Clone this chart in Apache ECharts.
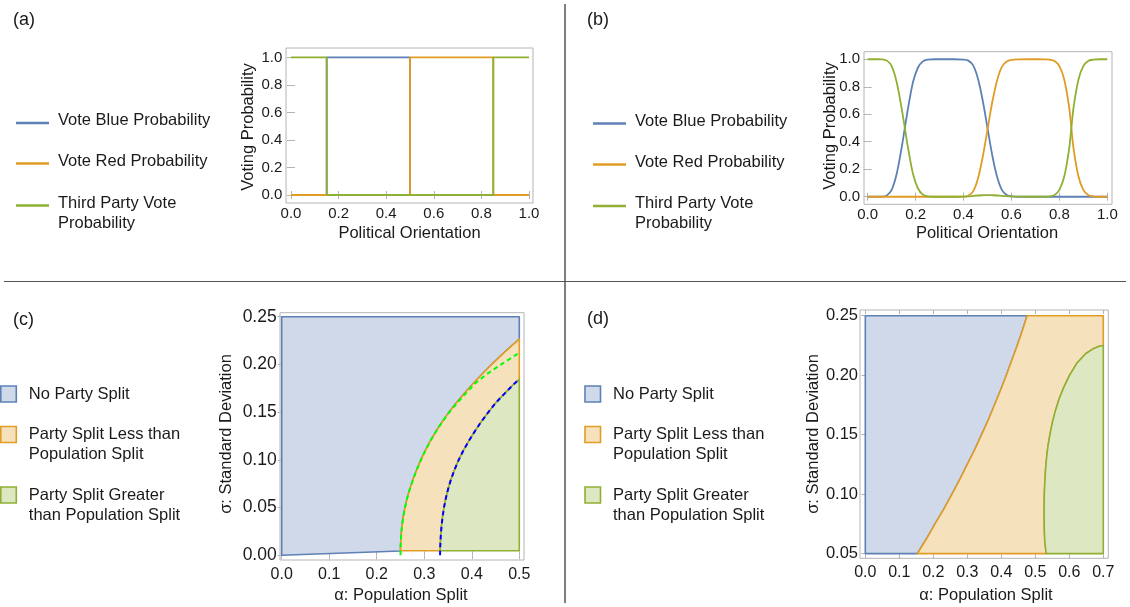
<!DOCTYPE html>
<html>
<head>
<meta charset="utf-8">
<script src="https://cdn.jsdelivr.net/npm/echarts@6/dist/echarts.min.js"></script>
<style>
  html, body { margin: 0; padding: 0; background: #ffffff; }
  #chart { width: 1130px; height: 607px; }
</style>
</head>
<body>
<div id="chart"></div>
<script>
// ---------- (a) sharp voting thresholds ----------
const stepOrientation = [0, 0.15, 0.15, 0.5, 0.5, 0.85, 0.85, 1];
const stepBlue  = [0, 0, 1, 1, 0, 0, 0, 0];
const stepRed   = [0, 0, 0, 0, 1, 1, 0, 0];
const stepThird = [1, 1, 0, 0, 0, 0, 1, 1];

// ---------- (b) smooth voting probabilities ----------
const orientation = [0, 0.02, 0.04, 0.06, 0.08, 0.10, 0.12, 0.14, 0.155, 0.17,
  0.19, 0.21, 0.23, 0.25, 0.28, 0.32, 0.36, 0.40, 0.42, 0.44,
  0.46, 0.48, 0.50, 0.52, 0.54, 0.56, 0.58, 0.60, 0.63, 0.67,
  0.71, 0.74, 0.76, 0.78, 0.80, 0.82, 0.84, 0.85, 0.86, 0.88,
  0.90, 0.92, 0.94, 0.97, 1.0];
const blueProb = [0, 0, 0, 0.001, 0.01, 0.05, 0.16, 0.34, 0.5, 0.66,
  0.84, 0.94, 0.985, 0.997, 1, 1, 1, 0.998, 0.99, 0.955,
  0.86, 0.70, 0.50, 0.30, 0.145, 0.05, 0.013, 0.003, 0, 0,
  0, 0, 0, 0, 0, 0, 0, 0, 0, 0,
  0, 0, 0, 0, 0];
const redProb = [0, 0, 0, 0, 0, 0, 0, 0, 0, 0,
  0, 0, 0, 0, 0, 0, 0, 0.001, 0.007, 0.039,
  0.131, 0.289, 0.488, 0.689, 0.846, 0.944, 0.983, 0.995, 0.999, 1,
  1, 0.999, 0.997, 0.987, 0.95, 0.855, 0.66, 0.5, 0.34, 0.145,
  0.05, 0.013, 0.003, 0, 0];
const thirdProb = [1, 1, 1, 0.999, 0.99, 0.95, 0.84, 0.66, 0.5, 0.34,
  0.16, 0.06, 0.015, 0.003, 0, 0, 0, 0.001, 0.003, 0.006,
  0.009, 0.011, 0.012, 0.011, 0.009, 0.006, 0.004, 0.002, 0.001, 0,
  0, 0.001, 0.003, 0.013, 0.05, 0.145, 0.34, 0.5, 0.66, 0.855,
  0.95, 0.987, 0.997, 1, 1];

// ---------- (c) split regions, alpha in [0, 0.5] ----------
const cEdgeSigma = [0.0048, 0.010, 0.020, 0.030, 0.040, 0.050, 0.060, 0.070, 0.080, 0.090,
  0.100, 0.110, 0.120, 0.130, 0.140, 0.150, 0.160, 0.170, 0.180, 0.190,
  0.200, 0.210, 0.220, 0.2266];
const cEdgeAlpha = [0.2500, 0.2503, 0.2512, 0.2530, 0.2557, 0.2595, 0.2642, 0.2700, 0.2768, 0.2845,
  0.2930, 0.3025, 0.3130, 0.325, 0.338, 0.352, 0.368, 0.385, 0.403, 0.422,
  0.442, 0.463, 0.485, 0.500];
const cGreenDashSigma = [0, 0.005, 0.010, 0.020, 0.030, 0.040, 0.050, 0.060, 0.070, 0.080,
  0.090, 0.100, 0.110, 0.120, 0.130, 0.140, 0.150, 0.160, 0.170, 0.180,
  0.190, 0.200, 0.210, 0.2123];
const cGreenDashAlpha = [0.2500, 0.2501, 0.2503, 0.2512, 0.2530, 0.2557, 0.2595, 0.2642, 0.2700, 0.2768,
  0.2845, 0.2930, 0.3025, 0.3130, 0.325, 0.338, 0.353, 0.370, 0.388, 0.407,
  0.432, 0.462, 0.493, 0.500];
const cBlueDashSigma = [0, 0.005, 0.010, 0.020, 0.030, 0.040, 0.050, 0.060, 0.070, 0.080,
  0.090, 0.100, 0.110, 0.120, 0.130, 0.140, 0.150, 0.160, 0.170, 0.180, 0.1844];
const cBlueDashAlpha = [0.3333, 0.3334, 0.3337, 0.3347, 0.3362, 0.3385, 0.3415, 0.3455, 0.3505, 0.3565,
  0.3640, 0.3725, 0.3825, 0.3940, 0.4065, 0.4200, 0.4350, 0.4510, 0.4700, 0.4900, 0.5000];
const cNoSplitFloorAlpha = [0, 0.25];
const cNoSplitFloorSigma = [0, 0.0045];
const cSplitFloor = 0.0048;

// ---------- (d) split regions, alpha in [0, 0.7] ----------
const dEdgeSigma = [0.050, 0.0625, 0.075, 0.0875, 0.100, 0.1125, 0.125, 0.1375, 0.150, 0.1625,
  0.175, 0.1875, 0.200, 0.2125, 0.225, 0.2375, 0.250];
const dEdgeAlpha = [0.153, 0.180, 0.205, 0.231, 0.255, 0.278, 0.300, 0.322, 0.342, 0.362,
  0.380, 0.398, 0.415, 0.431, 0.447, 0.462, 0.476];
const dGreenSigma = [0.050, 0.060, 0.070, 0.080, 0.090, 0.100, 0.110, 0.120, 0.130, 0.140,
  0.150, 0.160, 0.170, 0.180, 0.190, 0.200, 0.210, 0.218, 0.2225, 0.2245, 0.225];
const dGreenAlpha = [0.532, 0.528, 0.5265, 0.526, 0.526, 0.5265, 0.528, 0.530, 0.533, 0.537,
  0.543, 0.550, 0.559, 0.570, 0.584, 0.601, 0.622, 0.648, 0.672, 0.690, 0.700];

// ---------- ticks and labels ----------
const probTicks = [0, 0.2, 0.4, 0.6, 0.8, 1];
const cAlphaTicks = [0, 0.1, 0.2, 0.3, 0.4, 0.5];
const cSigmaTicks = [0, 0.05, 0.10, 0.15, 0.20, 0.25];
const dAlphaTicks = [0, 0.1, 0.2, 0.3, 0.4, 0.5, 0.6, 0.7];
const dSigmaTicks = [0.05, 0.10, 0.15, 0.20, 0.25];
const panelLabels = ['(a)', '(b)', '(c)', '(d)'];
const voteNames = ['Vote Blue Probability', 'Vote Red Probability', 'Third Party Vote\nProbability'];
const regionNames = ['No Party Split', 'Party Split Less than\nPopulation Split', 'Party Split Greater\nthan Population Split'];
const orientationTitle = 'Political Orientation';
const probabilityTitle = 'Voting Probability';
const alphaTitle = 'α: Population Split';
const sigmaTitle = 'σ: Standard Deviation';

// ---------- styling ----------
const FONT = '"Liberation Sans", Arial, Helvetica, sans-serif';
const INK = '#1a1a1a';
const FRAME = '#b4b4b4';
const LINE = ['#5E81B5', '#E19C24', '#8FB032'];
const FILL = ['#CFD9E9', '#F6E1BD', '#DDE7C2'];

const pairs = (xs, ys) => xs.map((x, i) => [x, ys[i]]);

// grid rectangles (frames) and axis ranges of the four panels
const panels = [
  { rect: { left: 286, top: 48, width: 247, height: 155 },
    x: [-0.021, 1.0168], y: [-0.058, 1.068], xt: probTicks, yt: probTicks,
    xf: v => v.toFixed(1), yf: v => v.toFixed(1), xs: 15, ys: 15, xm: 3.5, ym: 3.7 },
  { rect: { left: 864, top: 51.7, width: 248, height: 152.6 },
    x: [-0.0154, 1.0196], y: [-0.055, 1.055], xt: probTicks, yt: probTicks,
    xf: v => v.toFixed(1), yf: v => v.toFixed(1), xs: 15, ys: 15, xm: 3.2, ym: 4 },
  { rect: { left: 280, top: 312.7, width: 244, height: 247.3 },
    x: [-0.0036, 0.5099], y: [-0.0049, 0.2542], xt: cAlphaTicks, yt: cSigmaTicks,
    xf: v => v.toFixed(1), yf: v => v.toFixed(2), xs: 16, ys: 17.5, xm: 7, ym: 3.3 },
  { rect: { left: 860, top: 310, width: 248.3, height: 248.3 },
    x: [-0.0156, 0.7147], y: [0.0461, 0.2548], xt: dAlphaTicks, yt: dSigmaTicks,
    xf: v => v.toFixed(1), yf: v => v.toFixed(2), xs: 16, ys: 16.5, xm: 6.7, ym: 2 }
];

const grid = panels.map(p => Object.assign({
  show: true, borderColor: FRAME, borderWidth: 1, backgroundColor: 'transparent'
}, p.rect));

const tickStyle = { show: true, inside: true, length: 4, lineStyle: { color: FRAME, width: 1 } };
const xAxis = [];
const yAxis = [];
panels.forEach((p, i) => {
  xAxis[i] = {
    type: 'value', gridIndex: i, position: 'bottom', min: p.x[0], max: p.x[1],
    axisLine: { show: false }, splitLine: { show: false },
    axisTick: Object.assign({ customValues: p.xt }, tickStyle),
    axisLabel: { customValues: p.xt, formatter: p.xf, fontSize: p.xs, fontFamily: FONT, color: INK, margin: p.xm }
  };
  yAxis[i] = {
    type: 'value', gridIndex: i, position: 'left', min: p.y[0], max: p.y[1],
    axisLine: { show: false }, splitLine: { show: false },
    axisTick: Object.assign({ customValues: p.yt }, tickStyle),
    axisLabel: { customValues: p.yt, formatter: p.yf, fontSize: p.ys, fontFamily: FONT, color: INK, margin: p.ym }
  };
  // mirrored frame ticks on the top and right edges
  xAxis[i + 4] = {
    type: 'value', gridIndex: i, position: 'top', min: p.x[0], max: p.x[1],
    axisLine: { show: false }, splitLine: { show: false }, axisLabel: { show: false },
    axisTick: Object.assign({ customValues: p.xt }, tickStyle)
  };
  yAxis[i + 4] = {
    type: 'value', gridIndex: i, position: 'right', min: p.y[0], max: p.y[1],
    axisLine: { show: false }, splitLine: { show: false }, axisLabel: { show: false },
    axisTick: Object.assign({ customValues: p.yt }, tickStyle)
  };
});

function curve(gi, name, data, color, extra) {
  return Object.assign({
    type: 'line', name, xAxisIndex: gi, yAxisIndex: gi, data,
    showSymbol: false, symbol: 'none', silent: true, animation: false,
    lineStyle: { color, width: 1.8 }
  }, extra || {});
}

function region(gi, name, points, k) {
  return {
    type: 'custom', name, xAxisIndex: gi, yAxisIndex: gi, data: points,
    silent: true, animation: false,
    renderItem: (params, api) => {
      if (params.dataIndex !== 0) return null;
      return {
        type: 'polygon',
        shape: { points: points.map(pt => api.coord(pt)) },
        style: { fill: FILL[k], stroke: LINE[k], lineWidth: 1.6, lineJoin: 'round' }
      };
    }
  };
}

// (c) region polygons
const cEdge = pairs(cEdgeAlpha, cEdgeSigma);
const cBlueDash = pairs(cBlueDashAlpha, cBlueDashSigma);
const cGreenDash = pairs(cGreenDashAlpha, cGreenDashSigma);
const cBlueAbove = cBlueDash.filter(pt => pt[1] > cSplitFloor);
const cNoSplit = [...pairs(cNoSplitFloorAlpha, cNoSplitFloorSigma), ...cEdge, [0.5, 0.25], [0, 0.25]];
const cLess = [[0.25, cSplitFloor], [cBlueDashAlpha[0], cSplitFloor], ...cBlueAbove, ...cEdge.slice().reverse()];
const cGreater = [[cBlueDashAlpha[0], cSplitFloor], [0.5, cSplitFloor], ...cBlueAbove.slice().reverse()];

// (d) region polygons
const dEdge = pairs(dEdgeAlpha, dEdgeSigma);
const dGreen = pairs(dGreenAlpha, dGreenSigma);
const dNoSplit = [[0, 0.05], ...dEdge, [0, 0.25]];
const dLess = [[dEdgeAlpha[0], 0.05], [dGreenAlpha[0], 0.05], ...dGreen.slice(1), [0.7, 0.25], ...dEdge.slice().reverse()];
const dGreater = [[dGreenAlpha[0], 0.05], [0.7, 0.05], ...dGreen.slice().reverse()];

const series = [
  curve(0, voteNames[0], pairs(stepOrientation, stepBlue), LINE[0]),
  curve(0, voteNames[1], pairs(stepOrientation, stepRed), LINE[1]),
  curve(0, voteNames[2], pairs(stepOrientation, stepThird), LINE[2]),
  curve(1, voteNames[0], pairs(orientation, blueProb), LINE[0], { smooth: 0.35 }),
  curve(1, voteNames[1], pairs(orientation, redProb), LINE[1], { smooth: 0.35 }),
  curve(1, voteNames[2], pairs(orientation, thirdProb), LINE[2], { smooth: 0.35 }),
  region(2, regionNames[0], cNoSplit, 0),
  region(2, regionNames[1], cLess, 1),
  region(2, regionNames[2], cGreater, 2),
  curve(2, 'lower threshold', cGreenDash, '#00ff00', { z: 5, lineStyle: { color: '#00ff00', width: 2, type: [4.5, 3.5] } }),
  curve(2, 'upper threshold', cBlueDash, '#0000ff', { z: 5, lineStyle: { color: '#0000ff', width: 2, type: [4.5, 3.5] } }),
  region(3, regionNames[0], dNoSplit, 0),
  region(3, regionNames[1], dLess, 1),
  region(3, regionNames[2], dGreater, 2)
];

// ---------- annotations ----------
function label(x, y, str, size, opts) {
  return Object.assign({
    type: 'text', x, y, silent: true,
    style: Object.assign({ text: str, fill: INK, fontSize: size, fontFamily: FONT, align: 'left', verticalAlign: 'middle' }, (opts && opts.style) || {})
  }, (opts && opts.el) || {});
}

const graphics = [];
// panel dividers
graphics.push({ type: 'line', silent: true, shape: { x1: 565, y1: 4, x2: 565, y2: 603 }, style: { stroke: '#555', lineWidth: 1.5 } });
graphics.push({ type: 'line', silent: true, shape: { x1: 4, y1: 281.5, x2: 1126, y2: 281.5 }, style: { stroke: '#555', lineWidth: 1.2 } });

// panel letters
[[13, 20], [587, 20], [13, 320], [587, 319]].forEach((pos, i) => graphics.push(label(pos[0], pos[1], panelLabels[i], 18)));

// axis titles
function axisTitles(xc, xy, yc, yx, xt, yt) {
  graphics.push(label(xc, xy, xt, 16.5, { style: { align: 'center' } }));
  graphics.push(label(yx, yc, yt, 16.5, { style: { align: 'center' }, el: { rotation: Math.PI / 2 } }));
}
axisTitles(409.5, 233, 127, 248, orientationTitle, probabilityTitle);
axisTitles(987, 233, 126, 830, orientationTitle, probabilityTitle);
axisTitles(401, 595, 434, 226, alphaTitle, sigmaTitle);
axisTitles(986, 595, 434, 813, alphaTitle, sigmaTitle);

// line legends for (a) and (b)
function lineLegend(x0, ys) {
  voteNames.forEach((nm, k) => {
    graphics.push({ type: 'line', silent: true, shape: { x1: x0, y1: ys[k] + 2.5, x2: x0 + 33, y2: ys[k] + 2.5 }, style: { stroke: LINE[k], lineWidth: 2.6 } });
    nm.split('\n').forEach((ln, j) => graphics.push(label(x0 + 42, ys[k] + 20 * j, ln, 16.5)));
  });
}
lineLegend(16, [120.5, 161, 203]);
lineLegend(593, [121, 162, 203.5]);

// swatch legends for (c) and (d)
function boxLegend(x0, ys) {
  regionNames.forEach((nm, k) => {
    graphics.push({ type: 'rect', silent: true, shape: { x: x0, y: ys[k] - 8, width: 15.5, height: 16 }, style: { fill: FILL[k], stroke: LINE[k], lineWidth: 1.6 } });
    nm.split('\n').forEach((ln, j) => graphics.push(label(x0 + 28, ys[k] + 20 * j, ln, 16.5)));
  });
}
boxLegend(0.8, [394, 434.5, 495]);
boxLegend(585, [394, 434.5, 495]);

const chart = echarts.init(document.getElementById('chart'), null, { renderer: 'canvas' });
chart.setOption({
  animation: false,
  backgroundColor: '#ffffff',
  grid, xAxis, yAxis, series,
  graphic: { elements: graphics }
});
</script>
</body>
</html>
